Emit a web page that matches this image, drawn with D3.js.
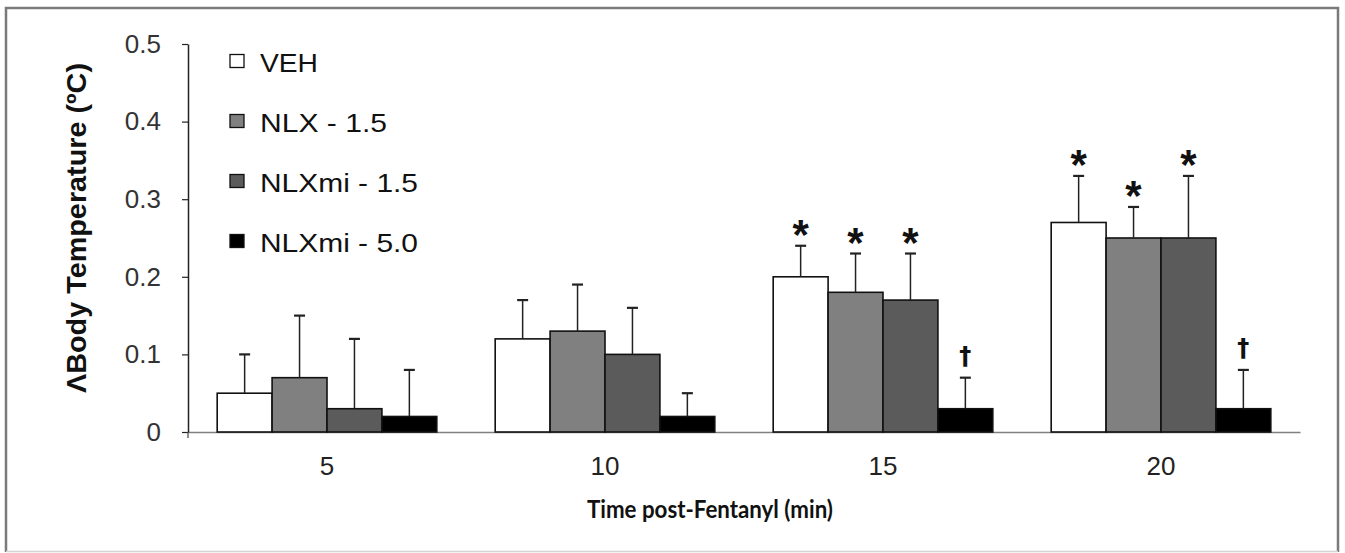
<!DOCTYPE html>
<html>
<head>
<meta charset="utf-8">
<script src="https://cdn.jsdelivr.net/npm/d3@7"></script>
<style>
html,body{margin:0;padding:0;background:#fff;}
svg{display:block;}
</style>
</head>
<body>
<svg id="chart" width="1345" height="553"></svg>
<script>
// ---- data ----
const categories = ["5", "10", "15", "20"];
const seriesNames = ["VEH", "NLX - 1.5", "NLXmi - 1.5", "NLXmi - 5.0"];
const seriesColors = ["#ffffff", "#808080", "#5b5b5b", "#000000"];
const vehMeans   = [0.05, 0.12, 0.20, 0.27];
const nlxMeans   = [0.07, 0.13, 0.18, 0.25];
const nlxmi15Means = [0.03, 0.10, 0.17, 0.25];
const nlxmi50Means = [0.02, 0.02, 0.03, 0.03];
const vehErr   = [0.05, 0.05, 0.04, 0.06];
const nlxErr   = [0.08, 0.06, 0.05, 0.04];
const nlxmi15Err = [0.09, 0.06, 0.06, 0.08];
const nlxmi50Err = [0.06, 0.03, 0.04, 0.05];
const vehMarks   = ["", "", "*", "*"];
const nlxMarks   = ["", "", "*", "*"];
const nlxmi15Marks = ["", "", "*", "*"];
const nlxmi50Marks = ["", "", "\u2020", "\u2020"];
const yTicks = [0, 0.1, 0.2, 0.3, 0.4, 0.5];
const yTickLabels = ["0", "0.1", "0.2", "0.3", "0.4", "0.5"];

const means = [vehMeans, nlxMeans, nlxmi15Means, nlxmi50Means];
const errs = [vehErr, nlxErr, nlxmi15Err, nlxmi50Err];
const marks = [vehMarks, nlxMarks, nlxmi15Marks, nlxmi50Marks];

const rows = [];
categories.forEach((c, ci) => {
  seriesNames.forEach((s, si) => {
    rows.push({cat: c, series: s, si, mean: means[si][ci], err: errs[si][ci], mark: marks[si][ci]});
  });
});

const svg = d3.select("#chart");
const font = "Arial, 'Liberation Sans', sans-serif";

// frame
svg.append("path").attr("d", "M6,552 L6,8 L1338,8 L1338,552")
  .attr("fill", "none").attr("stroke", "#7a7a7a").attr("stroke-width", 2.5);
svg.append("line").attr("x1", 6).attr("x2", 1338).attr("y1", 551.5).attr("y2", 551.5)
  .attr("stroke", "#d4d4d4").attr("stroke-width", 1.5);

const x0 = d3.scaleBand().domain(categories).range([188, 1300]).paddingInner(0.21).paddingOuter(0.105);
const x1 = d3.scaleBand().domain(seriesNames).range([0, x0.bandwidth()]).padding(0);
const y = d3.scaleLinear().domain([0, 0.5]).range([432, 44]);

// x axis
const xAxis = d3.axisBottom(x0).tickSize(0).tickPadding(24);
const gx = svg.append("g").attr("transform", "translate(0,432)").call(xAxis);
gx.select(".domain").attr("stroke", "#808080").attr("stroke-width", 1.5);
gx.selectAll(".tick text").attr("font-family", font).attr("font-size", 26).attr("fill", "#222")
  .attr("dy", "0").attr("y", 43);

// y axis
const yAxis = d3.axisLeft(y).tickValues(yTicks).tickFormat((d, i) => yTickLabels[i]).tickSize(6).tickSizeOuter(0).tickPadding(21);
const gy = svg.append("g").attr("transform", "translate(188,0)").call(yAxis);
gy.select(".domain").attr("stroke", "#222").attr("stroke-width", 1.5);
gy.selectAll(".tick line").attr("stroke", "#222").attr("stroke-width", 1.2);
gy.selectAll(".tick text").attr("font-family", font).attr("font-size", 26).attr("fill", "#333");
// small extension below x axis at origin
svg.append("line").attr("x1", 188).attr("x2", 188).attr("y1", y(0)).attr("y2", y(0) + 6)
  .attr("stroke", "#444").attr("stroke-width", 1.2);

// bars
const g = svg.append("g");
g.selectAll("rect.bar").data(rows).enter().append("rect")
  .attr("class", "bar")
  .attr("x", d => x0(d.cat) + x1(d.series))
  .attr("y", d => y(d.mean))
  .attr("width", x1.bandwidth())
  .attr("height", d => y(0) - y(d.mean))
  .attr("fill", d => seriesColors[d.si])
  .attr("stroke", "#111").attr("stroke-width", 1.6);

// error bars
const cx = d => x0(d.cat) + x1(d.series) + x1.bandwidth() / 2;
g.selectAll("line.err").data(rows).enter().append("line")
  .attr("x1", cx).attr("x2", cx)
  .attr("y1", d => y(d.mean)).attr("y2", d => y(d.mean + d.err))
  .attr("stroke", "#222").attr("stroke-width", 1.5);
g.selectAll("line.cap").data(rows).enter().append("line")
  .attr("x1", d => cx(d) - 5.5).attr("x2", d => cx(d) + 5.5)
  .attr("y1", d => y(d.mean + d.err)).attr("y2", d => y(d.mean + d.err))
  .attr("stroke", "#222").attr("stroke-width", 2.2);

// significance marks
g.selectAll("text.mark").data(rows.filter(d => d.mark)).enter().append("text")
  .attr("x", cx)
  .attr("y", d => y(d.mean + d.err) + (d.mark === "*" ? 3 : -14))
  .attr("text-anchor", "middle")
  .attr("font-family", d => d.mark === "*" ? font : "'DejaVu Sans', sans-serif")
  .attr("font-size", d => d.mark === "*" ? 42 : 24)
  .attr("font-weight", "bold")
  .attr("fill", "#111")
  .text(d => d.mark);

// legend
const legendWidths = [58, 127, 158, 158];
const lg = svg.append("g");
seriesNames.forEach((s, i) => {
  const yy = 61 + i * 60;
  lg.append("rect").attr("x", 230).attr("y", yy - 6.5).attr("width", 14).attr("height", 13)
    .attr("fill", seriesColors[i]).attr("stroke", "#111").attr("stroke-width", 1.3);
  lg.append("text").attr("x", 260).attr("y", yy + 11).attr("font-family", font).attr("font-size", 26)
    .attr("fill", "#111")
    .attr("textLength", legendWidths[i]).attr("lengthAdjust", "spacingAndGlyphs")
    .text(s);
});

// axis titles
svg.append("text")
  .attr("transform", "translate(86,228) rotate(-90)")
  .attr("text-anchor", "middle")
  .attr("font-family", font).attr("font-size", 28).attr("font-weight", "bold").attr("fill", "#111")
  .attr("textLength", 330).attr("lengthAdjust", "spacingAndGlyphs")
  .text("\u039BBody Temperature (\u00BAC)");

svg.append("text")
  .attr("x", 710).attr("y", 518)
  .attr("text-anchor", "middle")
  .attr("font-family", "Lato, 'Open Sans', sans-serif").attr("font-size", 25).attr("font-weight", "bold").attr("fill", "#111")
  .attr("textLength", 246).attr("lengthAdjust", "spacingAndGlyphs")
  .text("Time post-Fentanyl (min)");
</script>
</body>
</html>
